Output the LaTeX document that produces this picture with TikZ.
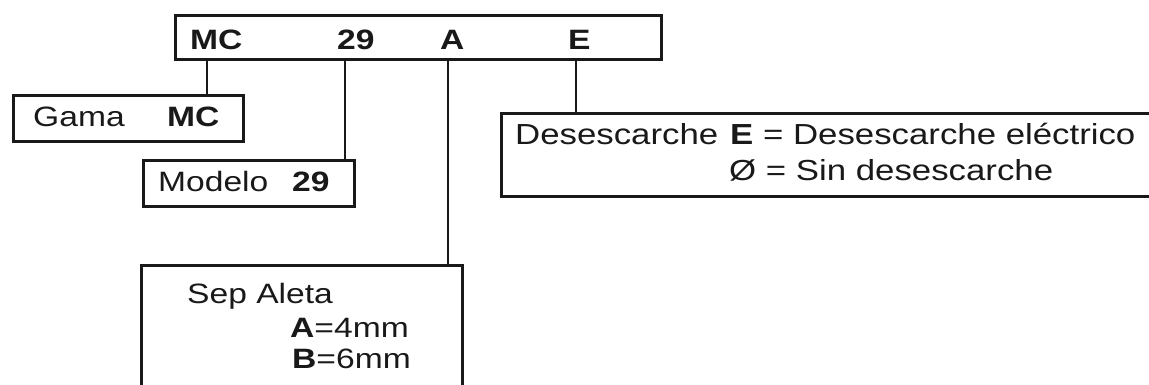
\documentclass[tikz,border=0pt]{standalone}
\usepackage{fontspec}
\setmainfont[FakeStretch=1.2]{Liberation Sans}
\begin{document}
\begin{tikzpicture}[x=1pt,y=-1pt,
  box/.style={draw=black!90, line width=2.6pt, inner sep=0pt, anchor=north west, fill=white},
  lbl/.style={anchor=base west, inner sep=0pt, font=\fontsize{28}{32}\selectfont, text=black!90},
  big/.style={font=\fontsize{29}{33}\selectfont},
  conn/.style={draw=black!90, line width=2.4pt}]
\useasboundingbox (0,0) rectangle (1149,385);
\clip (0,0) rectangle (1149,385);
\fill[white] (0,0) rectangle (1149,385);
% boxes
\node[box, minimum width=486pt, minimum height=44pt] (code) at (174,14) {};
\node[box, minimum width=230pt, minimum height=46pt] (gama) at (12,94) {};
\node[box, minimum width=211pt, minimum height=46pt] (modelo) at (142,159) {};
\node[box, minimum width=680pt, minimum height=83pt] (desc) at (500,112) {};
\node[box, minimum width=321pt, minimum height=150pt] (sep) at (140,264) {};
% connector columns
\coordinate (xmc) at (207,0);
\coordinate (x29) at (345,0);
\coordinate (xa) at (448,0);
\coordinate (xe) at (576,0);
\draw[conn] (xmc |- code.south) -- (xmc |- gama.north);
\draw[conn] (x29 |- code.south) -- (x29 |- modelo.north);
\draw[conn] (xa |- code.south) -- (xa |- sep.north);
\draw[conn] (xe |- code.south) -- (xe |- desc.north);
% code text
\node[lbl, font=\fontsize{28}{32}\selectfont\bfseries] (tmc) at (190,50) {MC};
\node[lbl, font=\fontsize{28}{32}\selectfont\bfseries] (t29) at (337,50) {29};
\node[lbl, font=\fontsize{28}{32}\selectfont\bfseries] (ta) at (440,50) {A};
\node[lbl, font=\fontsize{28}{32}\selectfont\bfseries] (te) at (568,50) {E};
% gama
\node[lbl] (gtxt) at (33,127) {Gama};
\node[lbl] (gmc) at (167,127) {\bfseries MC};
% modelo
\node[lbl] (mtxt) at (158,192) {Modelo};
\node[lbl] (m29) at (292,192) {\bfseries 29};
% desescarche
\node[lbl, big] (d0) at (515,145) {Desescarche};
\node[lbl, big] (d1) at (730,145) {\textbf{E} = Desescarche eléctrico};
\node[lbl, big] (d2) at (729,180) {Ø = Sin desescarche};
% sep aleta
\node[lbl] (s1) at (187,303) {Sep Aleta};
\node[lbl] (s2) at (290,337) {\textbf{A}=4mm};
\node[lbl] (s3) at (292,368) {\textbf{B}=6mm};
\end{tikzpicture}
\end{document}
